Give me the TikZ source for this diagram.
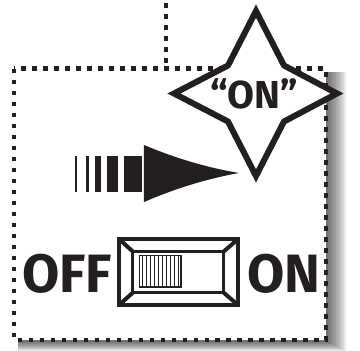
\documentclass[tikz,border=0pt]{standalone}
\usepackage{fontspec}
\setmainfont{Fira Sans}
\definecolor{ink}{RGB}{35,31,32}
\begin{document}
\begin{tikzpicture}[x=1pt,y=-1pt,
  dotline/.style={line width=4.5pt, dash pattern=on 4.5pt off 6.5pt, draw=ink},
  bigtxt/.style={inner sep=0pt, text=ink, font=\fontsize{54}{56}\selectfont\bfseries},
  startxt/.style={inner sep=0pt, text=ink, font=\fontsize{39}{40}\selectfont\bfseries},
  bar/.style={fill=ink}]
\useasboundingbox (0,0) rectangle (360,351);
% shadow
\foreach \k in {0,...,9}
  \fill[black,opacity=0.08] (18,72) rectangle ({328+2*\k},{342+\k});
% box
\fill[white] (14,68.5) rectangle (326,340);
\draw[dotline] (14,68.5) rectangle (326,340);
\draw[dotline] (166,3) -- (166,68.5);
% arrow
\fill[bar] (74.7,155.7) rectangle (76.7,192.3);
\fill[bar] (85.7,155.7) rectangle (88.7,192.3);
\fill[bar] (94.7,155.7) rectangle (101,192.3);
\fill[bar] (106.7,155.7) rectangle (118.3,192.3);
\fill[bar] (124,155.7) rectangle (141.7,192.3);
\fill[bar] (144,145) .. controls (175.7,158.3) and (207.3,167.7) .. (239,173)
  .. controls (207.3,178.7) and (175.7,188.3) .. (144,202) -- cycle;
% star
\draw[ink, fill=white, line width=6pt, miter limit=10]
  (174,93.5) -- (228,65.5) -- (256,11) -- (284,65.5) -- (337,93.5)
  -- (284,121.5) -- (256,176) -- (228,121.5) -- cycle;
\node[startxt, anchor=base] (on1) at (254,108) {“ON”};
% switch
\draw[ink, line width=3.5pt] (119,239) rectangle (238,305);
\draw[ink, line width=3pt] (133,251.7) rectangle (223.5,292.5);
\draw[ink, line width=4pt] (119,239) -- (133,251.7);
\draw[ink, line width=4pt] (238,239) -- (223.5,251.7);
\draw[ink, line width=4pt] (119,305) -- (133,292.5);
\draw[ink, line width=4pt] (238,305) -- (223.5,292.5);
\draw[ink, line width=1.5pt] (139.5,255.5) rectangle (181,287);
\foreach \i in {0,...,9}
  \draw[ink, line width=1pt] ({142.5+4*\i},255.5) -- ({142.5+4*\i},287);
\node[bigtxt, anchor=base] (off) at (67,292) {OFF};
\node[bigtxt, anchor=base] (on2) at (284,292) {ON};
\end{tikzpicture}
\end{document}
